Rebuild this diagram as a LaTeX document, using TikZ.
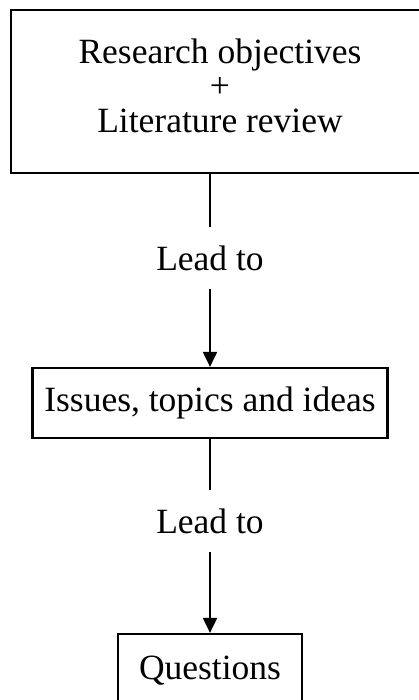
\documentclass[tikz,border=0pt]{standalone}
\usepackage{fontspec}
\setmainfont{Liberation Serif}
\usetikzlibrary{arrows.meta}

\begin{document}
\begin{tikzpicture}[x=1pt, y=-1pt, line width=2pt,
    box/.style={draw, line width=2.2pt, shape=rectangle, align=center, inner sep=0pt},
    lead/.style={inner sep=18pt, text height=24pt, text depth=0pt},
    font=\fontsize{35.5}{34.5}\selectfont
]
\clip (0,0) rectangle (419,700);
% --- Kaesten ---
\node[box, minimum width=418pt, minimum height=163pt, text depth=12pt] (objectives) at (220,91.5)
    {Research objectives\\+\\Literature review};
\node[box, minimum width=355pt, minimum height=70pt] (issues) at (210,403)
    {Issues, topics and ideas};
\node[box, minimum width=184pt, minimum height=74pt] (questions) at (210,671)
    {Questions};
% --- Beschriftungen ---
\node[lead] (lead1) at (210,258) {Lead to};
\node[lead] (lead2) at (210,521) {Lead to};
% --- Verbindungen ---
\draw (objectives.south -| lead1.north) -- (lead1.north);
\draw[-{Triangle[length=15pt,width=14pt]}] (lead1.south) -- (issues.north);
\draw (issues.south) -- (lead2.north);
\draw[-{Triangle[length=15pt,width=14pt]}] (lead2.south) -- (questions.north);
\end{tikzpicture}
\end{document}
